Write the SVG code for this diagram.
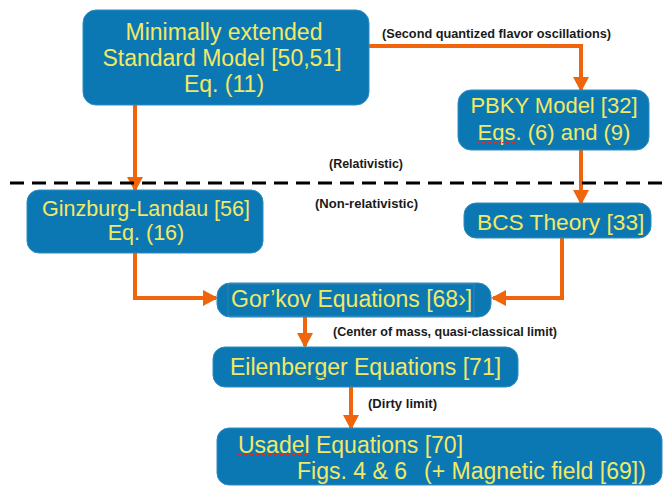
<svg xmlns="http://www.w3.org/2000/svg" width="670" height="487" viewBox="0 0 670 487">
<defs>
<style>
.box{fill:#0b78b3;stroke:#2f8cc0;stroke-width:1}
.t{font-family:"Liberation Sans",Arial,sans-serif;font-size:23px;fill:#f3e865}
.lbl{font-family:"Liberation Sans",Arial,sans-serif;font-size:12.5px;font-weight:bold;fill:#1a1a1a}
.con{fill:none;stroke:#f0640c;stroke-width:4;stroke-linejoin:miter}
.spell{stroke:#d03030;stroke-width:1.2;stroke-dasharray:2 1;fill:none}
</style>
<marker id="ah" markerUnits="userSpaceOnUse" markerWidth="17" markerHeight="17" refX="13" refY="8" orient="auto">
<path d="M0,0 L15,8 L0,16 z" fill="#f0640c"/>
</marker>
</defs>
<rect width="670" height="487" fill="#ffffff"/>

<g id="connectors">
<path class="con" d="M369,46 H581 V90" marker-end="url(#ah)"/>
<path class="con" d="M135,105 V190" marker-end="url(#ah)"/>
<path class="con" d="M581,150 V203" marker-end="url(#ah)"/>
<path class="con" d="M135,253 V298 H216" marker-end="url(#ah)"/>
<path class="con" d="M562,238 V298 H493" marker-end="url(#ah)"/>
<path class="con" d="M305,317 V346" marker-end="url(#ah)"/>
<path class="con" d="M351,387 V428" marker-end="url(#ah)"/>
</g>

<g id="divider">
<line x1="10" y1="183" x2="670" y2="183" stroke="#000" stroke-width="3" stroke-dasharray="14 8"/>
</g>

<g id="labels">
<text class="lbl" x="382" y="38" textLength="229" lengthAdjust="spacingAndGlyphs">(Second quantized flavor oscillations)</text>
<text class="lbl" x="329" y="168" textLength="74" lengthAdjust="spacingAndGlyphs">(Relativistic)</text>
<text class="lbl" x="315" y="208" textLength="103" lengthAdjust="spacingAndGlyphs">(Non-relativistic)</text>
<text class="lbl" x="333" y="336" textLength="224" lengthAdjust="spacingAndGlyphs">(Center of mass, quasi-classical limit)</text>
<text class="lbl" x="368" y="408" textLength="69" lengthAdjust="spacingAndGlyphs">(Dirty limit)</text>
</g>

<g id="node-msm">
<rect class="box" x="83" y="10" width="286" height="95" rx="13"/>
<text class="t" x="224" y="40" text-anchor="middle">Minimally extended</text>
<text class="t" x="222" y="66" text-anchor="middle">Standard Model [50,51]</text>
<text class="t" x="224" y="92" text-anchor="middle">Eq. (11)</text>
</g>

<g id="node-pbky">
<rect class="box" x="458" y="90" width="191" height="60" rx="13"/>
<text class="t" x="554" y="113" text-anchor="middle" style="font-size:22px">PBKY Model [32]</text>
<text class="t" x="554" y="140" text-anchor="middle" style="font-size:22px">Eqs. (6) and (9)</text>
<line class="spell" x1="478" y1="142.5" x2="515" y2="142.5"/>
</g>

<g id="node-gl">
<rect class="box" x="27" y="190" width="236" height="63" rx="12"/>
<text class="t" x="146" y="216" text-anchor="middle" style="font-size:21.5px">Ginzburg-Landau [56]</text>
<text class="t" x="146" y="240" text-anchor="middle" style="font-size:21.5px">Eq. (16)</text>
</g>

<g id="node-bcs">
<rect class="box" x="464" y="203" width="187" height="35" rx="12"/>
<text class="t" x="477" y="230" style="font-size:22.7px">BCS Theory [33]</text>
</g>

<g id="node-gorkov">
<rect class="box" x="217" y="283" width="274" height="34" rx="13"/>
<rect x="228" y="284" width="246" height="32" fill="none" stroke="#5a92b5" stroke-width="0.8" opacity="0.6"/>
<text class="t" x="231" y="307">Gor’kov Equations [68›]</text>
</g>

<g id="node-eilenberger">
<rect class="box" x="213" y="347" width="305" height="40" rx="12"/>
<text class="t" x="230" y="375">Eilenberger Equations [71]</text>
<line class="spell" x1="230" y1="377.5" x2="348" y2="377.5"/>
</g>

<g id="node-usadel">
<rect class="box" x="217" y="428" width="445" height="57" rx="12"/>
<text class="t" x="238" y="453">Usadel Equations [70]</text>
<text class="t" x="297" y="479">Figs. 4 &amp; 6</text>
<text class="t" x="424" y="479">(+ Magnetic field [69])</text>
<line class="spell" x1="237" y1="454.5" x2="309" y2="454.5"/>
</g>
</svg>
